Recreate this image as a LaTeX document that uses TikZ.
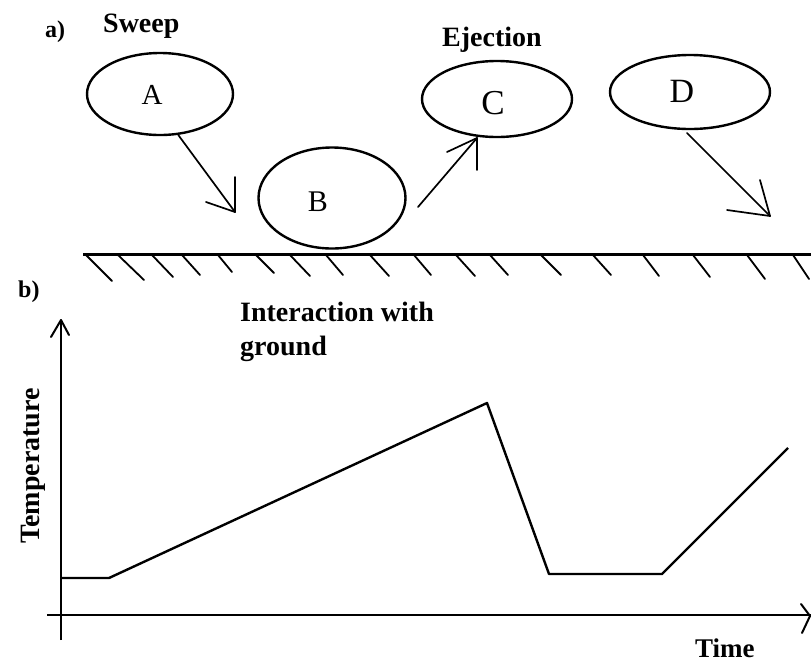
\documentclass[tikz,border=0pt]{standalone}
\usepackage{fontspec}
\setmainfont{Liberation Serif}
\usetikzlibrary{shapes.geometric}
\begin{document}
\begin{tikzpicture}[x=1pt,y=-1pt,
  blob/.style={draw,ellipse,line width=2.4pt,inner sep=0pt},
  lbl/.style={font=\fontsize{28}{30}\selectfont\bfseries,inner sep=0pt,anchor=base west},
  tag/.style={font=\fontsize{24}{26}\selectfont\bfseries,inner sep=0pt,anchor=base west},
  letter/.style={inner sep=0pt},
  motion/.style={line width=1.7pt,line cap=round},
  hatch/.style={line width=1.8pt,line cap=round},
  axis/.style={line width=2.8pt},
  curve/.style={line width=2.4pt,line join=round}]
\useasboundingbox[fill=white] (0,0) rectangle (811,665);

% labels
\node[tag] (ta) at (45,37) {a)};
\node[lbl] (sweep) at (103,32) {Sweep};
\node[lbl] (eject) at (442,46) {Ejection};
\node[tag] (tb) at (18,297) {b)};
\node[lbl] (inter) at (240,321) {Interaction with};
\node[lbl] (gr) at (240,355) {ground};
\node[lbl,font=\fontsize{27}{29}\selectfont\bfseries] (time) at (695,657) {Time};
\node[font=\fontsize{28}{30}\selectfont\bfseries,inner sep=0pt,rotate=90] (temp) at (33,466) {Temperature};

% particles
\node[blob,minimum width=146pt,minimum height=82pt] (A) at (160,94) {};
\node[blob,minimum width=147pt,minimum height=101pt] (B) at (332,198) {};
\node[blob,minimum width=150pt,minimum height=76pt] (C) at (497,99) {};
\node[blob,minimum width=160pt,minimum height=74pt] (D) at (690,92) {};
\node[letter,font=\fontsize{29}{31}\selectfont] (lA) at (152,95) {A};
\node[letter,font=\fontsize{30}{32}\selectfont] (lB) at (318,202) {B};
\node[letter,font=\fontsize{35}{37}\selectfont] (lC) at (493,103) {C};
\node[letter,font=\fontsize{34}{36}\selectfont] (lD) at (682,91) {D};

% motion arrows
\coordinate (a1) at (235,212);
\coordinate (b0) at (418,207);
\coordinate (c1) at (477,138);
\coordinate (d0) at (687,133);
\coordinate (d1) at (770,216);
\draw[motion] (A.-66) -- (a1);
\draw[motion] (a1) -- ++(0,-35);
\draw[motion] (a1) -- ++(-29,-10);
\draw[motion] (b0) -- (c1);
\draw[motion] (c1) -- ++(0,32);
\draw[motion] (c1) -- ++(-30,14);
\draw[motion] (d0) -- (d1);
\draw[motion] (d1) -- ++(-10,-36);
\draw[motion] (d1) -- ++(-43,-6);

% ground
\coordinate (g0) at (83,254);
\coordinate (g1) at (811,254);
\draw[line width=3pt] (g0) -- (g1);
\foreach \x/\dx/\dy in {86/26/26,118/26/25,152/21/22,182/18/20,218/14/17,256/18/18,
   290/20/21,326/17/20,370/19/21,414/17/20,456/19/21,490/18/20,541/20/20,
   593/18/20,643/16/21,693/17/22,747/18/24,793/16/24}
  \draw[hatch] (\x,255) -- ++(\dx,\dy);

% graph axes
\coordinate (o) at (61,615);
\coordinate (ybot) at (61,640);
\coordinate (ytop) at (61,320);
\coordinate (xl) at (47,615);
\coordinate (xr) at (811,615);
\draw[axis] (ybot) -- (ytop);
\draw[motion,line width=2pt] (ytop) -- ++(-10,17);
\draw[motion,line width=2pt] (ytop) -- ++(8,15);
\draw[axis] (xl) -- (xr);
\draw[motion,line width=2pt] (810,616) -- ++(-9,-12);
\draw[motion,line width=2pt] (810,616) -- ++(-8,17);

% temperature curve
\coordinate (p0) at (61,578);
\coordinate (p1) at (109,578);
\coordinate (p2) at (487,403);
\coordinate (p3) at (549,574);
\coordinate (p4) at (662,574);
\coordinate (p5) at (788,448);
\draw[curve] (p0) -- (p1) -- (p2) -- (p3) -- (p4) -- (p5);
\end{tikzpicture}
\end{document}
